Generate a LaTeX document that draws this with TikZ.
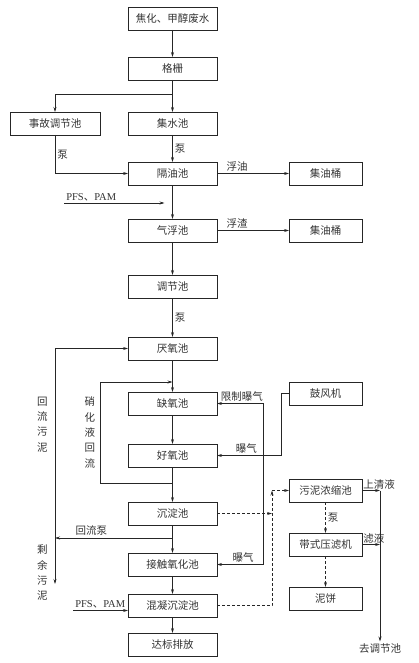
\documentclass[tikz,border=0pt]{standalone}
\usepackage{fontspec}
\setmainfont{Noto Sans CJK SC}
\newfontfamily\latinserif{Liberation Serif}
\usetikzlibrary{arrows.meta,positioning}

\begin{document}
\begin{tikzpicture}[
      x=1pt, y=-1pt,
      font=\fontsize{10.5pt}{13pt}\selectfont,
      tank/.style={draw=black!85, line width=0.7pt, minimum width=89pt,
        minimum height=23pt, inner sep=0pt, outer sep=0pt, text=black!80},
      sidetank/.style={tank, minimum width=73pt},
      tag/.style={inner sep=2pt, text=black!80},
      vtag/.style={tag, align=center, font=\fontsize{10.5pt}{15.3pt}\selectfont},
      arrow/.style={-{Stealth[length=5pt,width=3pt]}, line width=0.6pt, draw=black!85},
      dasharrow/.style={arrow, dash pattern=on 3pt off 2pt}
    ]
    \useasboundingbox (0,0) rectangle (419,663);

    % main treatment line
    \node[tank] (init) at (172.5,18.5) {焦化、甲醇废水};
    \node[tank, below=27pt of init] (grid) {格栅};
    \node[tank, below=32pt of grid] (jishui) {集水池};
    \node[tank, below=27pt of jishui] (geyou) {隔油池};
    \node[tank, below=34pt of geyou] (qifu) {气浮池};
    \node[tank, below=33pt of qifu] (tiaojie) {调节池};
    \node[tank, below=39pt of tiaojie] (yanyang) {厌氧池};
    \node[tank, below=32pt of yanyang] (queyang) {缺氧池};
    \node[tank, below=29pt of queyang] (haoyang) {好氧池};
    \node[tank, below=35pt of haoyang] (chendian) {沉淀池};
    \node[tank, below=28pt of chendian] (jiechu) {接触氧化池};
    \node[tank, below=18pt of jiechu] (hunning) {混凝沉淀池};
    \node[tank, below=16pt of hunning] (dabiao) {达标排放};

    % side units
    \node[tank, minimum width=90pt, left=28pt of jishui] (shigu) {事故调节池};
    \node[sidetank, right=72pt of geyou] (jiyou1) {集油桶};
    \node[sidetank, right=72pt of qifu] (jiyou2) {集油桶};
    \node[sidetank, right=72pt of queyang, yshift=10pt] (gufeng) {鼓风机};
    \node[sidetank, right=72pt of chendian, yshift=23pt] (nongsuo) {污泥浓缩池};
    \node[sidetank, below=31pt of nongsuo] (yalv) {带式压滤机};
    \node[sidetank, below=31pt of yalv] (nibing) {泥饼};

    \coordinate (split) at ([yshift=-14pt]grid.south);
    \coordinate (pfs1) at ([xshift=-108.5pt,yshift=-18pt]geyou.south);
    \coordinate (pfs2) at ([xshift=-55pt,yshift=-5pt]hunning.west);
    \coordinate (nitro) at ([yshift=-16pt]haoyang.south);
    \coordinate (nitrotop) at ([yshift=10pt]queyang.north);
    \coordinate (retpump) at ([yshift=-13pt]chendian.south);
    \coordinate (sludgebot) at ([yshift=-46pt]retpump -| shigu.south);
    \coordinate (airfork) at ([xshift=46pt]jiechu.east);
    \coordinate (dashx) at ([xshift=55pt]hunning.east);
    \coordinate (outx) at ([xshift=18pt]nongsuo.east);
    \node[tag, yshift=-4pt] (dest) at (outx |- dabiao) {去调节池};

    \draw[arrow] (init) -- (grid);
    \draw[arrow] (grid) -- (jishui);
    \draw[arrow] (split) -| (shigu);
    \draw[arrow] (jishui) -- node[tag, right] {泵} (geyou);
    \draw[arrow] (shigu) |- node[tag, right, pos=.25] {泵} (geyou);
    \draw[arrow] (geyou) -- node[tag, above, pos=.28] {浮油} (jiyou1);
    \draw[arrow, shorten >=8pt] (pfs1) node[tag, above right] {{\latinserif PFS}、{\latinserif PAM}} -- (pfs1 -| geyou.south);
    \draw[arrow] (geyou) -- (qifu);
    \draw[arrow] (qifu) -- node[tag, above, pos=.28] {浮渣} (jiyou2);
    \draw[arrow] (qifu) -- (tiaojie);
    \draw[arrow] (tiaojie) -- node[tag, right] {泵} (yanyang);
    \draw[arrow] (yanyang) -- (queyang);
    \draw[arrow] (queyang) -- (haoyang);
    \draw[arrow] (haoyang) -- (chendian);
    \draw[arrow] (nitro) -- ++(-72pt,0) |- node[vtag, left=3pt, pos=.25] {硝\\化\\液\\回\\流} (nitrotop);
    \draw[arrow] (chendian) -- (jiechu);
    \draw[arrow] (jiechu) -- (hunning);
    \draw[arrow] (hunning) -- (dabiao);
    \draw[arrow] (pfs2) node[tag, above right] {{\latinserif PFS}、{\latinserif PAM}} -- (pfs2 -| hunning.west);

    % sludge return and excess sludge
    \draw[arrow] (retpump) -- node[tag, above, pos=.69] {回流泵} (retpump -| shigu.south);
    \draw[arrow] (retpump -| shigu.south) |- node[vtag, left=5pt, pos=.3] {回\\流\\污\\泥} (yanyang);
    \draw[arrow] (retpump -| shigu.south) -- node[vtag, left=5pt, pos=.76] {剩\\余\\污\\泥} (sludgebot);

    % aeration
    \draw[arrow] (gufeng.west) -- ++(-8pt,0) |- node[tag, above, pos=.77] {曝气} (haoyang);
    \draw[arrow] (airfork) -- node[tag, above, pos=.43] {曝气} (jiechu);
    \draw[arrow] (airfork) |- node[tag, above, pos=.73] {限制曝气} (queyang);

    % sludge treatment
    \draw[dasharrow] (chendian) -- (chendian -| dashx);
    \draw[dasharrow] (hunning) -- (dashx) -- (dashx |- nongsuo.west);
    \draw[dasharrow] (dashx |- nongsuo.west) -- (nongsuo);
    \draw[dasharrow] (nongsuo) -- node[tag, right] {泵} (yalv);
    \draw[dasharrow] (yalv) -- (nibing);
    \draw[arrow] (nongsuo.east) node[tag, above right, inner sep=1pt] {上清液} -- (outx);
    \draw[arrow] (yalv.east) node[tag, above right, inner sep=1pt] {滤液} -- (yalv.east -| outx);
    \draw[arrow] (outx) -- (dest);
  \end{tikzpicture}
\end{document}
